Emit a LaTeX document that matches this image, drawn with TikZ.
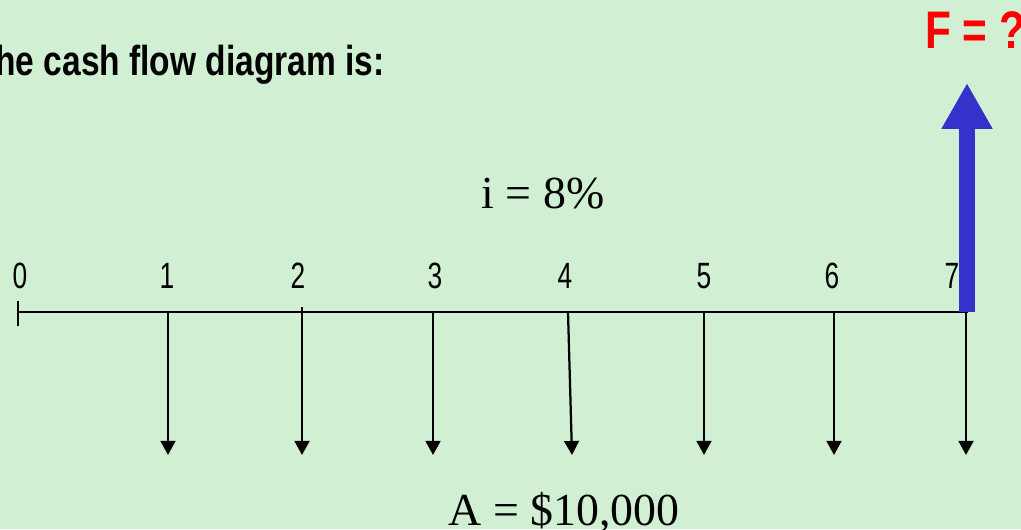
\documentclass[tikz,border=0pt]{standalone}
\usepackage{fontspec}
\setmainfont{Liberation Serif}
\newfontfamily\narrowsans[FakeStretch=0.8]{Liberation Sans}
\newfontfamily\digitsans[FakeStretch=0.72]{Liberation Sans}
\usetikzlibrary{arrows.meta,calc}
\definecolor{bgc}{HTML}{D1F0D3}
\definecolor{flowblue}{HTML}{3333CC}
\definecolor{askred}{HTML}{FF0000}
\tikzset{
  headline/.style={font=\narrowsans\bfseries\fontsize{29.8}{32}\selectfont, inner sep=0pt},
  asked/.style={font=\narrowsans\bfseries\fontsize{37.6}{40}\selectfont, text=askred, inner sep=0pt},
  period/.style={font=\digitsans\fontsize{26}{28}\selectfont, inner sep=0pt, anchor=base},
  serifbig/.style={font=\fontsize{32.6}{35}\selectfont, inner sep=0pt, anchor=base},
  axis/.style={line width=1.6pt},
  payment/.style={-{Triangle[length=10pt,width=10.5pt]}, line width=1.6pt},
  future/.style={-{Triangle[length=32.6pt,width=34pt]}, line width=11.3pt, draw=flowblue},
}
\begin{document}
\begin{tikzpicture}[x=0.025cm, y=-0.025cm]
  \useasboundingbox (0,0) rectangle (1021,529);
  \fill[bgc] (0,0) rectangle (1021,529);
  \clip (0,0) rectangle (1021,529);
  % heading and unknown
  \node[headline, anchor=base east] (title) at (385,75) {The cash flow diagram is:};
  \node[asked, anchor=base west] (fq) at (925,48) {F = ?};
  % time line
  \coordinate (t0) at (18,312);
  \coordinate (t7) at (968,312);
  \draw[axis] (t0) -- (t7);
  \draw[axis] ($(t0)+(0,-11)$) -- ($(t0)+(0,14)$);
  \foreach \n/\x in {0/20,1/167,2/298,3/435,4/565,5/704,6/832,7/952}
    \node[period] (lab\n) at (\x,288) {\n};
  % payments
  \foreach \n/\xa/\ya/\xb in {1/168/312/168,2/302/307/302,3/433/312/433,4/568/312/572,5/704/312/704,6/834/312/834,7/966/312/966}{
    \coordinate (top\n) at (\xa,\ya);
    \coordinate (end\n) at (\xb,455);
    \draw[payment] (top\n) -- (end\n);
  }
  \node[serifbig] (rate) at (543,208) {i = 8\%};
  \node[serifbig] (amount) at (564,525) {A = \$10,000};
  % future value
  \coordinate (fbase) at (967,312);
  \coordinate (ftip) at (967,83);
  \draw[future] (fbase) -- (ftip);
\end{tikzpicture}
\end{document}
